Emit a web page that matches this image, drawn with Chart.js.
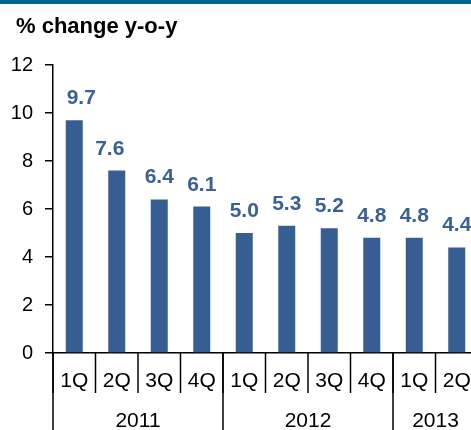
<!DOCTYPE html>
<html>
<head>
<meta charset="utf-8">
<title>% change y-o-y</title>
<script src="https://cdn.jsdelivr.net/npm/chart.js@4.4.1/dist/chart.umd.min.js"></script>
<style>
  html, body { margin: 0; padding: 0; background: #fff; overflow: hidden; }
  #wrap { position: absolute; left: 0; top: 0; width: 480px; height: 430px; }
</style>
</head>
<body>
<div id="wrap"><canvas id="grafico" width="480" height="430"></canvas></div>
<script>
// dados
const quarters = ['1Q', '2Q', '3Q', '4Q', '1Q', '2Q', '3Q', '4Q', '1Q', '2Q'];
const years = ['2011', '2012', '2013'];
const quartersPerYear = [4, 4, 2];
const growth = [9.7, 7.6, 6.4, 6.1, 5.0, 5.3, 5.2, 4.8, 4.8, 4.4];
const yMin = 0, yMax = 12, yStep = 2;

const FONT = "'Liberation Sans', Arial, sans-serif";
const BAR = '#375e92';
const LABEL = '#3a6197';

// banda, titulo, rotulos e eixo dos anos
const extras = {
    id: 'extras',
    beforeDraw(chart) {
        const ctx = chart.ctx;
        ctx.save();
        ctx.fillStyle = '#00668f';
        ctx.fillRect(0, 0, chart.width, 4);
        ctx.fillStyle = '#000';
        ctx.font = 'bold 22px ' + FONT;
        ctx.textBaseline = 'alphabetic';
        ctx.textAlign = 'left';
        ctx.fillText('% change y-o-y', 16, 33);
        ctx.restore();
    },
    afterDatasetsDraw(chart) {
        const ctx = chart.ctx;
        const meta = chart.getDatasetMeta(0);
        const nudge = [7, -7, 0, 0, 0, 0, 0, 0, 0, 0];
        ctx.save();
        ctx.fillStyle = LABEL;
        ctx.font = 'bold 21px ' + FONT;
        ctx.textAlign = 'center';
        ctx.textBaseline = 'alphabetic';
        meta.data.forEach((bar, i) => {
            ctx.fillText(growth[i].toFixed(1), bar.x + nudge[i], bar.y - 16);
        });
        ctx.restore();
    },
    afterDraw(chart) {
        const ctx = chart.ctx;
        const x = chart.scales.x;
        const half = (x.getPixelForValue(1) - x.getPixelForValue(0)) / 2;
        const top = x.top;
        ctx.save();
        ctx.strokeStyle = '#000';
        ctx.lineWidth = 1.5;
        // separadores dos trimestres
        for (let i = 0; i <= quarters.length; i++) {
            const px = x.getPixelForValue(i) - half;
            ctx.beginPath();
            ctx.moveTo(px, top);
            ctx.lineTo(px, top + 40);
            ctx.stroke();
        }
        // anos
        ctx.fillStyle = '#000';
        ctx.font = '21px ' + FONT;
        ctx.textAlign = 'center';
        ctx.textBaseline = 'middle';
        let start = 0;
        years.forEach((yr, k) => {
            const end = start + quartersPerYear[k];
            const x0 = x.getPixelForValue(start) - half;
            const x1 = x.getPixelForValue(end - 1) + half;
            ctx.beginPath();
            ctx.moveTo(x0, top);
            ctx.lineTo(x0, chart.height);
            ctx.stroke();
            ctx.fillText(yr, (x0 + x1) / 2, top + 68);
            start = end;
        });
        ctx.restore();
    }
};

new Chart(document.getElementById('grafico'), {
    type: 'bar',
    data: {
        labels: quarters,
        datasets: [{
            data: growth,
            backgroundColor: BAR,
            barPercentage: 0.4,
            categoryPercentage: 1
        }]
    },
    options: {
        responsive: false,
        animation: false,
        layout: { padding: { left: 0, top: 65, right: 2, bottom: 0 } },
        plugins: {
            legend: { display: false },
            tooltip: { enabled: false }
        },
        scales: {
            x: {
                grid: { display: false },
                border: { display: true, color: '#000', width: 1.5 },
                ticks: {
                    color: '#000',
                    font: { family: FONT, size: 21 },
                    padding: 8,
                    maxRotation: 0,
                    autoSkip: false
                },
                afterFit(scale) { scale.height = 77; }
            },
            y: {
                min: yMin,
                max: yMax,
                grid: { drawOnChartArea: false, drawTicks: true, tickLength: 8, color: '#000', lineWidth: 1.5 },
                border: { display: true, color: '#000', width: 1.5 },
                ticks: {
                    stepSize: yStep,
                    color: '#000',
                    font: { family: FONT, size: 20 },
                    padding: 12
                },
                afterFit(scale) { scale.width = 53; }
            }
        }
    },
    plugins: [extras]
});
</script>
</body>
</html>
